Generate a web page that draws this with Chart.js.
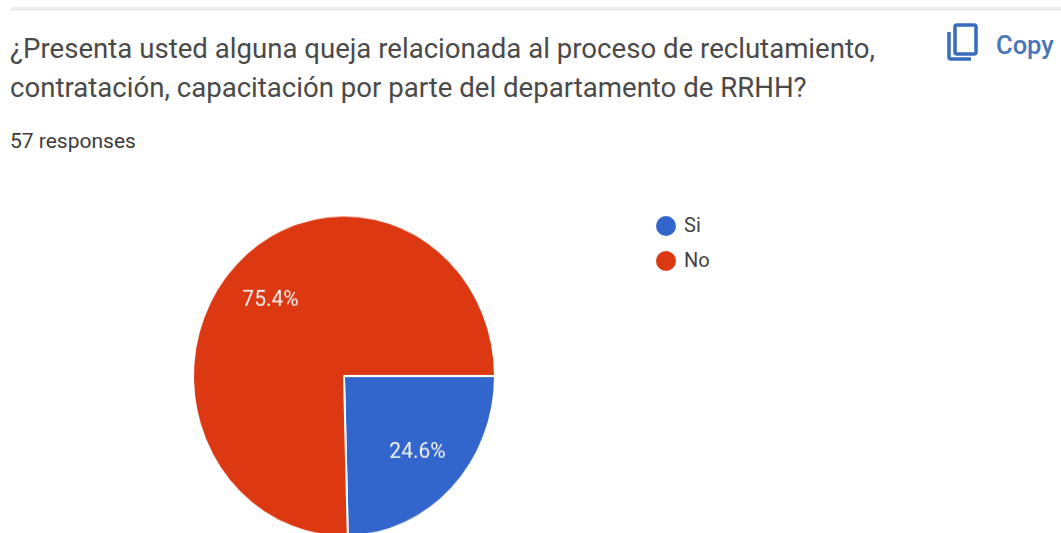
<!DOCTYPE html>
<html lang="es">
<head>
<meta charset="utf-8">
<title>Encuesta RRHH</title>
<script src="https://cdn.jsdelivr.net/npm/chart.js@4"></script>
<style>
  html, body { margin: 0; height: 533px; overflow: hidden; background: #fff; font-family: Roboto, sans-serif; }
  #card { position: absolute; left: 10px; top: 7px; width: 1051px; height: 4px; background: #ececec; border-radius: 4px 0 0 0; }
  #question { position: absolute; left: 10px; top: 29px; margin: 0; font-size: 27.6px; font-weight: 400; line-height: 39px; color: #4a4a4a; white-space: nowrap; }
  #count { position: absolute; left: 10px; top: 129px; font-size: 21px; line-height: 24px; color: #3c3c3c; }
  #copy { position: absolute; left: 945px; top: 22px; width: 112px; height: 40px; color: #4a76b8; font-size: 25.5px; font-weight: 500; line-height: 40px; }
  #copy svg { position: absolute; left: 0; top: 0; }
  #copy span { position: absolute; left: 51px; top: 3px; }
  #pie { position: absolute; left: 183px; top: 215px; transform: scaleY(1.063); transform-origin: center; }
  #legend { position: absolute; left: 656px; top: 208px; font-size: 20px; color: #444; }
  #legend div { height: 35px; line-height: 35px; white-space: nowrap; }
  #legend i { display: inline-block; width: 20px; height: 20px; border-radius: 50%; margin-right: 8px; vertical-align: -4px; }
</style>
</head>
<body>
<div id="card"></div>
<h1 id="question"></h1>
<div id="count"></div>
<div id="copy">
  <svg width="36" height="40" viewBox="0 0 36 40" fill="none" stroke="#3a6bbd" stroke-width="3.5">
    <rect x="10" y="3" width="21" height="29" rx="2"/>
    <path d="M4 10v25a2 2 0 0 0 2 2h20"/>
  </svg>
  <span>Copy</span>
</div>
<canvas id="pie" width="322" height="322"></canvas>
<div id="legend"></div>

<script>
const questionLines = [
  "¿Presenta usted alguna queja relacionada al proceso de reclutamiento,",
  "contratación, capacitación por parte del departamento de RRHH?",
];
const responses = "57 responses";
const categories = ["Si", "No"];
const percentages = [24.6, 75.4];
const colors = ["#3366cc", "#dc3912"];

document.getElementById("question").innerHTML = questionLines.join("<br>");
document.getElementById("count").textContent = responses;
document.getElementById("legend").innerHTML = categories
  .map((name, i) => `<div><i style="background:${colors[i]}"></i>${name}</div>`)
  .join("");

// percent text sits inside each slice, along its middle angle
const sliceLabels = {
  id: "sliceLabels",
  afterDatasetsDraw(chart) {
    const { ctx } = chart;
    ctx.save();
    ctx.fillStyle = "#f4f4f4";
    ctx.font = "21px Roboto, sans-serif";
    ctx.textAlign = "center";
    ctx.textBaseline = "middle";
    chart.getDatasetMeta(0).data.forEach((arc, i) => {
      const mid = (arc.startAngle + arc.endAngle) / 2;
      const r = arc.outerRadius * 0.68;
      ctx.fillText(percentages[i].toFixed(1) + "%", arc.x + Math.cos(mid) * r, arc.y + Math.sin(mid) * r);
    });
    ctx.restore();
  },
};

new Chart(document.getElementById("pie"), {
  type: "pie",
  data: {
    labels: categories,
    datasets: [
      {
        data: percentages,
        backgroundColor: colors,
        borderColor: "#ffffff",
        borderWidth: 2,
        hoverOffset: 0,
      },
    ],
  },
  options: {
    responsive: false,
    animation: false,
    rotation: 90,
    layout: { padding: 9 },
    plugins: {
      legend: { display: false },
      tooltip: { enabled: false },
    },
  },
  plugins: [sliceLabels],
});
</script>
</body>
</html>
